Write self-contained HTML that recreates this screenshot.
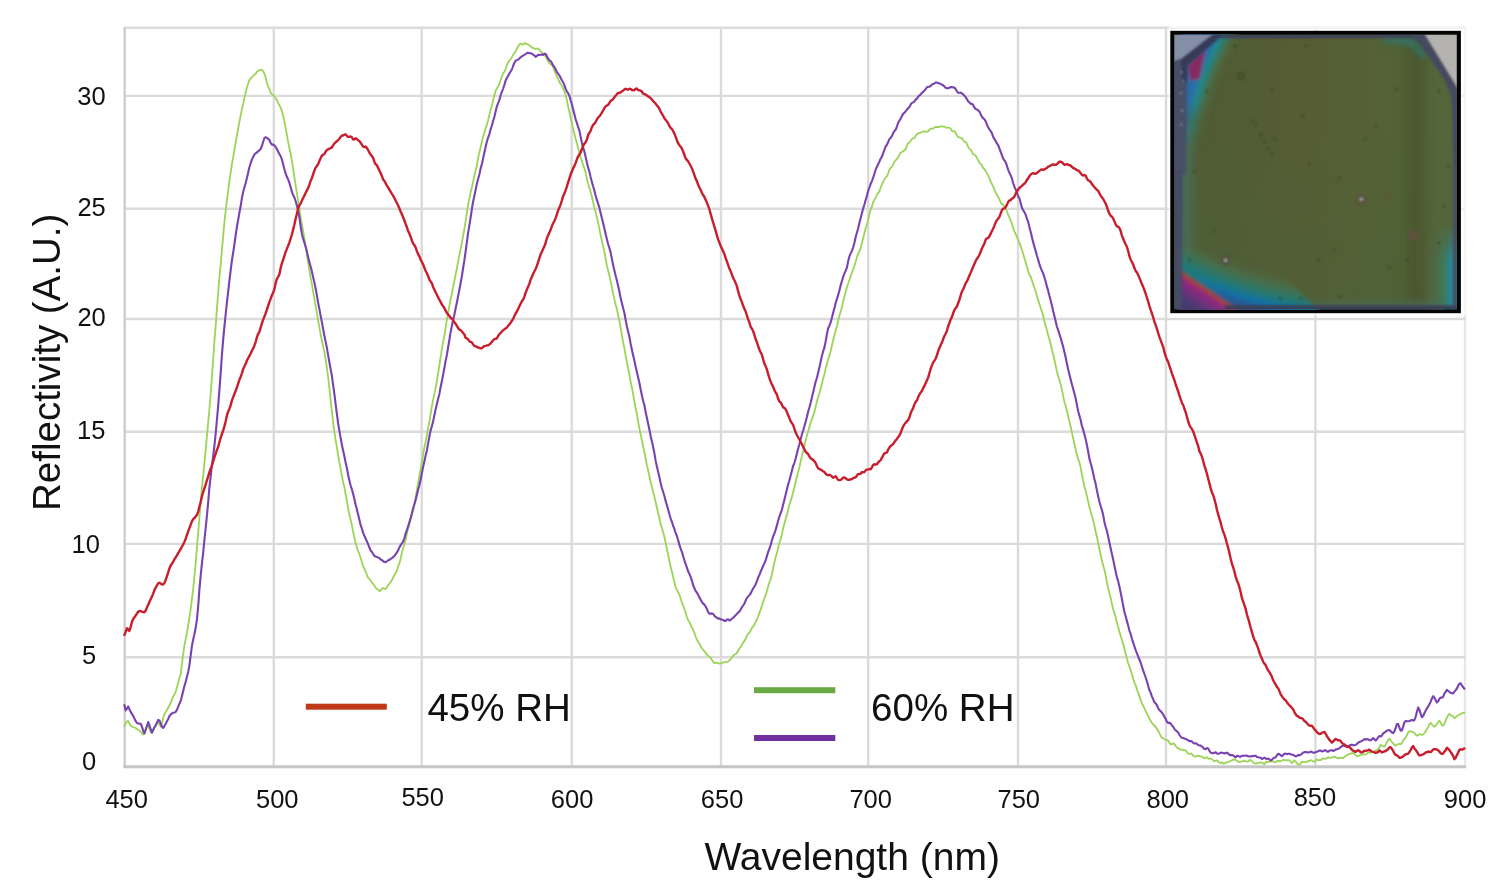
<!DOCTYPE html>
<html><head><meta charset="utf-8"><title>Reflectivity vs wavelength</title>
<style>
html,body{margin:0;padding:0;background:#fff}
body{width:1502px;height:890px;position:relative;overflow:hidden;font-family:"Liberation Sans",Arial,sans-serif;color:#111}
</style></head><body>
<svg width="1502" height="890" viewBox="0 0 1502 890" style="position:absolute;left:0;top:0;filter:blur(0.45px)" font-family="'Liberation Sans', Arial, Helvetica, sans-serif" fill="#111">
<g stroke="#dbdbdb" stroke-width="2.4" fill="none"><line x1="273.8" y1="27.8" x2="273.8" y2="766.7"/><line x1="421.7" y1="27.8" x2="421.7" y2="766.7"/><line x1="571.7" y1="27.8" x2="571.7" y2="766.7"/><line x1="721.0" y1="27.8" x2="721.0" y2="766.7"/><line x1="868.2" y1="27.8" x2="868.2" y2="766.7"/><line x1="1018.0" y1="27.8" x2="1018.0" y2="766.7"/><line x1="1166.0" y1="27.8" x2="1166.0" y2="766.7"/><line x1="1315.4" y1="27.8" x2="1315.4" y2="766.7"/><line x1="1465.0" y1="27.8" x2="1465.0" y2="766.7" stroke="#e8e8e8"/><line x1="124.7" y1="657.3" x2="1465.0" y2="657.3"/><line x1="124.7" y1="543.9" x2="1465.0" y2="543.9"/><line x1="124.7" y1="431.8" x2="1465.0" y2="431.8"/><line x1="124.7" y1="319.0" x2="1465.0" y2="319.0"/><line x1="124.7" y1="208.8" x2="1465.0" y2="208.8"/><line x1="124.7" y1="95.9" x2="1465.0" y2="95.9"/><line x1="123.5" y1="27.8" x2="1466.2" y2="27.8"/></g>
<g stroke="#cdcdcd" stroke-width="2.4" fill="none"><line x1="124.7" y1="27.8" x2="124.7" y2="768.1"/><line x1="123.4" y1="766.7" x2="1466.2" y2="766.7" stroke-width="2.9" stroke="#c6c6c6"/></g>
<rect x="1168.3" y="25.5" width="299.5" height="290.2" fill="#fff" opacity="0.62"/>
<defs><clipPath id="ic"><rect x="1174.3" y="34.8" width="282.4" height="274.3"/></clipPath>
<filter id="b3" x="-20%" y="-20%" width="140%" height="140%"><feGaussianBlur stdDeviation="2.6"/></filter>
<filter id="b2" x="-20%" y="-20%" width="140%" height="140%"><feGaussianBlur stdDeviation="1.6"/></filter>
<filter id="b1" x="-20%" y="-20%" width="140%" height="140%"><feGaussianBlur stdDeviation="0.8"/></filter>
<filter id="b6" x="-30%" y="-30%" width="160%" height="160%"><feGaussianBlur stdDeviation="7"/></filter>
<linearGradient id="og" x1="0" y1="0" x2="1" y2="0">
<stop offset="0" stop-color="#505b35"/><stop offset="0.2" stop-color="#515c35"/><stop offset="0.42" stop-color="#565c34"/><stop offset="0.62" stop-color="#565f35"/><stop offset="0.8" stop-color="#536236"/><stop offset="1" stop-color="#576739"/>
</linearGradient>
<linearGradient id="ogv" x1="0" y1="0" x2="0" y2="1"><stop offset="0.35" stop-color="#4c6238" stop-opacity="0"/><stop offset="1" stop-color="#4c6238" stop-opacity="0.55"/></linearGradient>
<radialGradient id="gBL" gradientUnits="userSpaceOnUse" cx="1371" cy="-104" r="450" fx="1371" fy="-104"><stop offset="0.8578" stop-color="#51603a" stop-opacity="0"/><stop offset="0.8867" stop-color="#48704f" stop-opacity="0.75"/><stop offset="0.9089" stop-color="#2c7868" stop-opacity="0.95"/><stop offset="0.9244" stop-color="#1a7888" stop-opacity="1"/><stop offset="0.9367" stop-color="#166fa6" stop-opacity="1"/><stop offset="0.9467" stop-color="#1f5f98" stop-opacity="1"/><stop offset="0.9600" stop-color="#35508a" stop-opacity="1"/><stop offset="1.0000" stop-color="#3a4a80" stop-opacity="1"/></radialGradient>
<linearGradient id="gM" gradientUnits="userSpaceOnUse" x1="1183.7" y1="269.0" x2="1167.6" y2="293.2"><stop offset="0.000" stop-color="#4a5560" stop-opacity="0"/><stop offset="0.103" stop-color="#6a5048" stop-opacity="0.9"/><stop offset="0.190" stop-color="#a8453c" stop-opacity="1"/><stop offset="0.310" stop-color="#96287a" stop-opacity="1"/><stop offset="0.586" stop-color="#70307c" stop-opacity="1"/><stop offset="0.862" stop-color="#4a3a72" stop-opacity="1"/><stop offset="1.000" stop-color="#44396c" stop-opacity="1"/></linearGradient>
<linearGradient id="gTeal" gradientUnits="userSpaceOnUse" x1="1182.0" y1="0.0" x2="1222.0" y2="0.0"><stop offset="0.000" stop-color="#1f7a70" stop-opacity="0.75"/><stop offset="1.000" stop-color="#1f7a70" stop-opacity="0"/></linearGradient>
<linearGradient id="fTL" gradientUnits="userSpaceOnUse" x1="0" y1="100" x2="0" y2="150"><stop offset="0" stop-color="#fff"/><stop offset="1" stop-color="#000"/></linearGradient><mask id="mTL" maskUnits="userSpaceOnUse" x="1170" y="30" width="100" height="140"><rect x="1170" y="30" width="100" height="140" fill="url(#fTL)"/></mask>
<radialGradient id="gTL" gradientUnits="userSpaceOnUse" cx="1447" cy="164" r="272" fx="1447" fy="164"><stop offset="0.8824" stop-color="#51603a" stop-opacity="0"/><stop offset="0.9191" stop-color="#4a7048" stop-opacity="0.8"/><stop offset="0.9412" stop-color="#2a8078" stop-opacity="1"/><stop offset="0.9540" stop-color="#23858c" stop-opacity="1"/><stop offset="0.9706" stop-color="#2a6fa8" stop-opacity="1"/><stop offset="1.0000" stop-color="#2a68a0" stop-opacity="1"/></radialGradient>
<linearGradient id="gL" gradientUnits="userSpaceOnUse" x1="1200.0" y1="0.0" x2="1181.0" y2="0.0"><stop offset="0.000" stop-color="#4a6a50" stop-opacity="0"/><stop offset="0.600" stop-color="#47705a" stop-opacity="0.7"/><stop offset="1.000" stop-color="#466c62" stop-opacity="0.9"/></linearGradient>
<linearGradient id="gBR" gradientUnits="userSpaceOnUse" x1="1424.0" y1="0.0" x2="1457.0" y2="0.0"><stop offset="0.000" stop-color="#4a6a50" stop-opacity="0"/><stop offset="0.500" stop-color="#3f7a5c" stop-opacity="0.6"/><stop offset="0.760" stop-color="#2a8580" stop-opacity="0.95"/><stop offset="0.880" stop-color="#1590bc" stop-opacity="1"/><stop offset="1.000" stop-color="#1a8ec4" stop-opacity="1"/></linearGradient>
<linearGradient id="fBR" gradientUnits="userSpaceOnUse" x1="0" y1="225" x2="0" y2="262"><stop offset="0" stop-color="#000"/><stop offset="1" stop-color="#fff"/></linearGradient><mask id="mBR" maskUnits="userSpaceOnUse" x="1410" y="220" width="60" height="100"><rect x="1410" y="220" width="60" height="100" fill="url(#fBR)"/></mask>
<linearGradient id="gB" gradientUnits="userSpaceOnUse" x1="0.0" y1="296.0" x2="0.0" y2="309.0"><stop offset="0.000" stop-color="#4a6a52" stop-opacity="0"/><stop offset="0.700" stop-color="#4a6a5a" stop-opacity="0.6"/><stop offset="1.000" stop-color="#44606a" stop-opacity="0.9"/></linearGradient></defs>
<rect x="1170.3" y="30.8" width="290.6" height="282.4" fill="#040404"/>
<g clip-path="url(#ic)">
<rect x="1174" y="34" width="284" height="276" fill="url(#og)"/>
<rect x="1174" y="34" width="284" height="276" fill="url(#ogv)"/>
<g filter="url(#b6)">
<rect x="1407" y="30" width="18" height="290" fill="#48542f" opacity="0.9"/>
<rect x="1426" y="30" width="32" height="290" fill="#57653a" opacity="0.6"/>
</g>
<g filter="url(#b2)">
<rect x="1270" y="294" width="175" height="16" fill="url(#gB)"/>
<polygon points="1181,125 1202,125 1200,268 1181,268" fill="url(#gL)"/>
<polygon points="1181,34 1250,34 1215,100 1205,160 1181,160" fill="url(#gTL)" mask="url(#mTL)"/>
<polygon points="1205.5,48.6 1199.6,79.0 1190.3,80.6 1187.8,65.5" fill="#862a60"/>
<polygon points="1178,215 1200,225 1270,262 1320,312 1178,312" fill="url(#gBL)"/>
<polygon points="1180,262 1222,280 1222,300 1180,285" fill="url(#gTeal)"/>
<polygon points="1176,266 1240,310 1176,312" fill="url(#gM)"/>
</g>
<g filter="url(#b3)">
<polygon points="1418,225 1458,225 1458,309 1418,309" fill="url(#gBR)" mask="url(#mBR)"/>
<polygon points="1382.5,36.8 1412.9,36.8 1428.0,57.0 1421.3,58.7 1409.5,46.1 1382.5,42.7" fill="#2a7a7c" opacity="0.6"/>
</g>
<g filter="url(#b1)">
<polygon points="1173.4,58.7 1181.9,58.7 1186.9,68.8 1186.1,175.1 1173.4,175.1" fill="#465069"/>
<polygon points="1174,170 1182.5,170 1182,309 1174,309" fill="#444e66"/>
<polygon points="1173.4,61.3 1213.1,33.8 1224.0,33.8 1187.8,65.5 1186.9,82.3 1181.9,82.3 1181.0,60.4" fill="#373b58"/>
<polygon points="1173.4,33.8 1213.1,33.8 1181.0,58.7 1173.4,61.3" fill="#858fa8"/>
<polygon points="1222.3,33.8 1325.0,33.8 1325.0,38.2 1219.0,38.2" fill="#3c4258"/>
<rect x="1320" y="34" width="110" height="4" fill="#3c4258"/>
<polygon points="1408.7,33.8 1426.4,33.8 1458.4,88.2 1458.4,175.1 1453.8,175.1 1451.7,97.5 1444.9,80.6 1428.9,56.2 1418.8,42.7" fill="#444a62"/>
<polygon points="1424.7,33.8 1458.4,33.8 1458.4,89.1" fill="#b5b3af"/>
<rect x="1452.8" y="170" width="6" height="140" fill="#46505e"/>
<rect x="1225" y="305.3" width="235" height="5" fill="#3a3f58"/>
</g>
<g filter="url(#b1)" fill="none">
<circle cx="1240.8" cy="75.7" r="3.0" stroke="#3e4826" stroke-width="1.6"/>
<circle cx="1361.3" cy="199.3" r="3.4" stroke="#6d4a52" stroke-width="1.6"/>
<circle cx="1388.8" cy="195.8" r="3.0" stroke="#5e5a30" stroke-width="1.6"/>
<circle cx="1412.4" cy="235.2" r="3.6" stroke="#7a4656" stroke-width="1.6"/>
<circle cx="1225.5" cy="260.3" r="3.6" stroke="#5b454f" stroke-width="1.6"/>
<circle cx="1429.8" cy="251.5" r="4.5" stroke="#5a6440" stroke-width="1.6"/>
<circle cx="1361.3" cy="199.3" r="1.2" fill="#c8c8d0"/>
<circle cx="1225.5" cy="260.3" r="1.2" fill="#c8c8d0"/>
<circle cx="1272.1" cy="89.6" r="1.3" fill="#3a4828"/>
<circle cx="1302.8" cy="115.8" r="1.3" fill="#3a4828"/>
<circle cx="1255.8" cy="124.5" r="1.3" fill="#3a4828"/>
<circle cx="1264.5" cy="141.9" r="1.3" fill="#3a4828"/>
<circle cx="1271.4" cy="154.1" r="1.3" fill="#3a4828"/>
<circle cx="1274.9" cy="138.4" r="1.3" fill="#3a4828"/>
<circle cx="1309.7" cy="164.5" r="1.3" fill="#3a4828"/>
<circle cx="1339.3" cy="178.4" r="1.3" fill="#3a4828"/>
<circle cx="1375.9" cy="126.2" r="1.3" fill="#3a4828"/>
<circle cx="1396.8" cy="89.6" r="1.3" fill="#3a4828"/>
<circle cx="1365.4" cy="138.4" r="1.3" fill="#3a4828"/>
<circle cx="1214.0" cy="230.7" r="1.3" fill="#3a4828"/>
<circle cx="1194.8" cy="171.5" r="1.3" fill="#3a4828"/>
<circle cx="1318.4" cy="260.3" r="1.3" fill="#3a4828"/>
<circle cx="1389.8" cy="267.2" r="1.3" fill="#3a4828"/>
<circle cx="1334.1" cy="249.8" r="1.3" fill="#3a4828"/>
<circle cx="1407.2" cy="260.3" r="1.3" fill="#3a4828"/>
<circle cx="1438.6" cy="242.8" r="1.3" fill="#3a4828"/>
<circle cx="1449.0" cy="166.2" r="1.3" fill="#3a4828"/>
<circle cx="1443.8" cy="206.3" r="1.3" fill="#3a4828"/>
<circle cx="1207.0" cy="91.4" r="1.3" fill="#3a4828"/>
<circle cx="1189.6" cy="260.3" r="1.3" fill="#3a4828"/>
<circle cx="1280.1" cy="298.6" r="1.3" fill="#3a4828"/>
<circle cx="1301.0" cy="298.6" r="1.3" fill="#3a4828"/>
<circle cx="1339.3" cy="296.8" r="1.3" fill="#3a4828"/>
<circle cx="1438.6" cy="91.4" r="1.3" fill="#3a4828"/>
<circle cx="1306.2" cy="46.1" r="1.3" fill="#3a4828"/>
<circle cx="1234.9" cy="46.1" r="1.3" fill="#3a4828"/>
<circle cx="1261.0" cy="134.9" r="1.3" fill="#3a4828"/>
<circle cx="1267.9" cy="148.8" r="1.3" fill="#3a4828"/>
<circle cx="1252.3" cy="121.0" r="1.3" fill="#3a4828"/>
<circle cx="1181.6" cy="72.2" r="0.9" fill="#b0b6cc"/>
<circle cx="1183.0" cy="80.9" r="0.9" fill="#b0b6cc"/>
<circle cx="1180.9" cy="93.1" r="0.9" fill="#b0b6cc"/>
<circle cx="1182.3" cy="110.5" r="0.9" fill="#b0b6cc"/>
<circle cx="1181.2" cy="124.5" r="0.9" fill="#b0b6cc"/>
</g>
</g>
<g fill="none" stroke-linejoin="round" stroke-linecap="round">
<path d="M124.4 726.1 L125.7 723.8 L126.9 721.4 L128.2 721.0 L129.4 723.7 L130.7 725.8 L131.9 726.6 L133.2 727.1 L134.4 727.5 L135.7 727.9 L136.9 729.0 L138.2 729.8 L139.4 730.6 L140.7 731.7 L141.9 733.2 L143.2 734.5 L144.4 733.5 L145.7 729.7 L146.9 726.1 L148.2 725.8 L149.4 728.9 L150.7 731.8 L151.9 732.9 L153.2 730.4 L154.4 727.8 L155.7 725.9 L156.9 723.6 L158.2 722.7 L159.4 724.4 L160.7 726.8 L161.9 723.7 L163.2 717.8 L164.4 714.4 L165.7 712.3 L166.9 710.0 L168.2 707.8 L169.4 705.5 L170.7 702.7 L171.9 699.5 L173.2 696.8 L174.4 694.4 L175.7 691.8 L176.9 687.4 L178.2 682.5 L179.4 678.2 L180.7 673.9 L181.9 664.2 L183.2 654.0 L184.4 645.4 L185.7 639.1 L186.9 633.2 L188.2 625.5 L189.4 617.6 L190.7 609.0 L191.9 598.8 L193.2 588.5 L194.4 577.2 L195.7 563.0 L196.9 547.8 L198.2 532.6 L199.4 517.6 L200.7 502.2 L201.9 487.9 L203.2 475.2 L204.4 463.1 L205.7 449.9 L206.9 436.1 L208.2 422.4 L209.4 409.0 L210.7 393.5 L211.9 376.9 L213.2 359.0 L214.4 341.4 L215.7 325.2 L216.9 308.6 L218.2 292.2 L219.4 277.8 L220.7 264.5 L221.9 250.1 L223.2 235.9 L224.4 222.4 L225.7 210.6 L226.9 200.6 L228.2 190.5 L229.4 180.9 L230.7 172.3 L231.9 164.1 L233.2 157.1 L234.4 150.0 L235.7 142.3 L236.9 135.7 L238.2 128.5 L239.4 121.7 L240.7 115.2 L241.9 109.4 L243.2 103.8 L244.4 97.9 L245.7 92.4 L246.9 87.7 L248.2 83.5 L249.4 80.2 L250.7 78.4 L251.9 77.1 L253.2 75.8 L254.4 74.7 L255.7 73.9 L256.9 71.8 L258.1 70.6 L259.4 70.6 L260.6 69.7 L261.9 70.0 L263.1 71.0 L264.4 73.6 L265.6 77.5 L266.9 82.8 L268.1 86.3 L269.4 89.0 L270.6 92.5 L271.9 94.3 L273.1 95.2 L274.4 96.3 L275.6 98.1 L276.9 100.3 L278.1 102.9 L279.4 105.3 L280.6 107.5 L281.9 111.3 L283.1 116.0 L284.4 121.4 L285.6 127.8 L286.9 134.8 L288.1 141.9 L289.4 148.2 L290.6 153.8 L291.9 160.6 L293.1 168.4 L294.4 177.2 L295.6 185.1 L296.9 193.2 L298.1 200.9 L299.4 208.9 L300.6 216.8 L301.9 224.0 L303.1 231.0 L304.4 237.9 L305.6 246.1 L306.9 254.3 L308.1 262.9 L309.4 270.4 L310.6 277.6 L311.9 284.2 L313.1 291.6 L314.4 298.6 L315.6 305.8 L316.9 313.1 L318.1 320.1 L319.4 327.3 L320.6 334.3 L321.9 340.5 L323.1 346.2 L324.4 352.1 L325.6 359.6 L326.9 367.9 L328.1 377.0 L329.4 388.5 L330.6 399.8 L331.9 411.1 L333.1 422.4 L334.4 432.1 L335.6 440.0 L336.9 447.4 L338.1 455.2 L339.4 462.3 L340.6 468.8 L341.9 476.1 L343.1 482.0 L344.4 487.2 L345.6 494.0 L346.9 500.8 L348.1 508.4 L349.4 514.6 L350.6 519.5 L351.9 525.3 L353.1 531.6 L354.4 537.4 L355.6 543.2 L356.9 547.4 L358.1 551.0 L359.4 554.5 L360.6 557.6 L361.9 562.2 L363.1 566.3 L364.4 568.7 L365.6 571.3 L366.9 574.8 L368.1 577.9 L369.4 578.9 L370.6 580.3 L371.9 582.6 L373.1 583.6 L374.4 585.7 L375.6 587.5 L376.9 589.0 L378.1 589.8 L379.4 591.1 L380.6 590.6 L381.9 588.8 L383.1 588.0 L384.4 588.8 L385.6 589.0 L386.9 587.3 L388.1 585.3 L389.4 583.6 L390.6 582.2 L391.9 580.1 L393.1 577.5 L394.4 574.9 L395.6 573.4 L396.9 570.4 L398.1 566.2 L399.4 563.5 L400.6 558.8 L401.9 552.8 L403.1 547.6 L404.4 544.3 L405.6 539.8 L406.9 533.9 L408.1 528.5 L409.4 524.4 L410.6 518.8 L411.9 514.0 L413.1 510.3 L414.4 504.6 L415.6 497.2 L416.9 489.9 L418.1 482.9 L419.4 475.3 L420.6 468.9 L421.9 461.9 L423.1 454.3 L424.4 447.5 L425.6 441.7 L426.9 435.2 L428.1 428.5 L429.4 421.8 L430.6 414.0 L431.9 406.4 L433.1 399.7 L434.4 394.1 L435.6 388.1 L436.9 381.0 L438.1 373.4 L439.4 365.0 L440.6 357.1 L441.9 349.1 L443.1 341.9 L444.4 335.8 L445.6 328.1 L446.9 319.6 L448.1 312.4 L449.4 306.0 L450.6 299.4 L451.9 293.6 L453.1 287.1 L454.4 280.8 L455.6 274.6 L456.9 268.2 L458.1 261.4 L459.4 254.9 L460.6 248.8 L461.9 242.6 L463.1 235.9 L464.4 228.8 L465.6 221.5 L466.9 213.0 L468.1 205.0 L469.4 198.3 L470.6 192.4 L471.9 187.6 L473.1 181.7 L474.4 175.5 L475.6 170.8 L476.9 165.0 L478.1 157.7 L479.4 152.6 L480.6 147.5 L481.9 141.6 L483.1 136.7 L484.4 132.4 L485.6 128.5 L486.9 124.6 L488.1 120.5 L489.4 114.9 L490.6 110.1 L491.9 105.4 L493.1 100.5 L494.4 95.3 L495.6 91.0 L496.9 88.4 L498.1 86.5 L499.4 83.9 L500.6 80.3 L501.9 76.5 L503.1 73.3 L504.4 71.7 L505.6 69.1 L506.9 65.4 L508.1 62.5 L509.4 60.4 L510.6 59.4 L511.9 57.2 L513.1 54.9 L514.4 53.2 L515.6 51.4 L516.9 48.8 L518.1 46.3 L519.4 44.4 L520.6 43.6 L521.9 44.5 L523.1 44.7 L524.4 43.0 L525.6 43.4 L526.9 44.2 L528.1 44.4 L529.4 45.3 L530.6 46.2 L531.9 47.6 L533.1 47.9 L534.4 48.5 L535.6 49.2 L536.9 48.7 L538.1 48.4 L539.4 49.8 L540.6 51.6 L541.9 52.5 L543.1 53.4 L544.4 54.4 L545.6 56.6 L546.9 59.0 L548.1 61.1 L549.4 63.4 L550.6 64.2 L551.9 64.9 L553.1 67.1 L554.4 70.7 L555.6 73.4 L556.9 76.1 L558.1 78.8 L559.4 81.8 L560.6 84.0 L561.9 85.5 L563.1 88.4 L564.4 91.6 L565.6 94.8 L566.9 100.3 L568.1 106.3 L569.4 112.0 L570.6 117.7 L571.9 123.5 L573.1 128.7 L574.4 133.9 L575.6 138.7 L576.9 143.3 L578.1 147.7 L579.4 152.7 L580.6 157.3 L581.9 160.9 L583.1 165.2 L584.4 168.3 L585.6 172.5 L586.9 178.4 L588.1 183.7 L589.4 188.0 L590.6 191.7 L591.9 196.8 L593.1 202.3 L594.4 207.6 L595.6 212.4 L596.9 217.6 L598.1 222.8 L599.4 228.8 L600.6 235.1 L601.9 241.1 L603.1 246.1 L604.4 251.9 L605.6 258.9 L606.9 265.4 L608.1 270.5 L609.4 275.5 L610.6 281.1 L611.9 287.4 L613.1 293.6 L614.4 299.6 L615.6 304.5 L616.9 309.2 L618.1 315.0 L619.4 320.9 L620.6 327.7 L621.9 335.6 L623.1 342.1 L624.4 348.1 L625.6 355.7 L626.9 361.9 L628.1 367.9 L629.4 375.0 L630.6 381.7 L631.9 387.5 L633.1 393.9 L634.4 401.6 L635.6 408.2 L636.9 413.8 L638.1 421.6 L639.4 428.6 L640.6 434.4 L641.9 440.5 L643.1 446.3 L644.4 452.1 L645.6 458.8 L646.9 465.2 L648.1 470.2 L649.4 476.2 L650.6 482.0 L651.9 486.9 L653.1 491.9 L654.4 496.6 L655.6 502.0 L656.9 507.8 L658.1 512.8 L659.4 518.0 L660.6 524.1 L661.9 527.8 L663.1 532.0 L664.4 537.0 L665.6 542.5 L666.9 548.7 L668.1 554.4 L669.4 561.0 L670.6 566.7 L671.9 571.4 L673.1 577.0 L674.4 582.2 L675.6 587.3 L676.9 589.9 L678.1 592.0 L679.4 594.8 L680.6 598.5 L681.9 602.5 L683.1 605.7 L684.4 608.9 L685.6 612.6 L686.9 616.7 L688.1 620.2 L689.4 622.0 L690.6 624.7 L691.9 627.5 L693.1 629.9 L694.4 632.8 L695.6 636.2 L696.9 639.6 L698.1 641.7 L699.4 643.7 L700.6 646.3 L701.9 648.2 L703.1 649.7 L704.4 651.3 L705.6 652.7 L706.9 654.7 L708.1 656.1 L709.4 656.5 L710.6 657.7 L711.9 660.0 L713.1 661.7 L714.4 663.1 L715.6 662.7 L716.9 662.9 L718.1 663.1 L719.4 663.6 L720.6 663.7 L721.9 662.8 L723.1 662.5 L724.4 662.3 L725.6 662.0 L726.9 661.8 L728.1 661.5 L729.4 660.6 L730.6 659.2 L731.9 657.4 L733.1 655.8 L734.4 654.7 L735.6 654.0 L736.9 653.0 L738.1 650.7 L739.4 648.5 L740.6 647.2 L741.9 644.9 L743.1 642.7 L744.4 641.2 L745.6 639.0 L746.9 635.6 L748.1 633.9 L749.4 632.8 L750.6 630.6 L751.9 628.1 L753.1 626.4 L754.4 624.9 L755.6 622.0 L756.9 619.5 L758.1 616.6 L759.4 612.9 L760.6 609.6 L761.9 605.8 L763.1 601.9 L764.4 598.4 L765.6 595.5 L766.9 591.2 L768.1 586.5 L769.4 582.5 L770.6 579.4 L771.9 574.5 L773.1 568.5 L774.4 562.5 L775.6 557.2 L776.9 553.1 L778.1 548.2 L779.4 542.9 L780.6 539.2 L781.9 534.4 L783.1 528.5 L784.4 523.6 L785.6 519.2 L786.9 514.8 L788.1 509.7 L789.4 504.8 L790.6 501.4 L791.9 497.1 L793.1 492.6 L794.4 487.5 L795.6 481.8 L796.9 476.9 L798.1 472.3 L799.4 467.2 L800.6 461.4 L801.9 456.0 L803.1 451.1 L804.4 445.9 L805.6 440.6 L806.9 435.5 L808.1 431.6 L809.4 427.0 L810.6 422.8 L811.9 419.1 L813.1 415.7 L814.4 412.1 L815.6 406.7 L816.9 401.2 L818.1 397.2 L819.4 393.0 L820.6 388.7 L821.9 383.7 L823.1 378.8 L824.4 374.2 L825.6 369.1 L826.9 363.9 L828.1 359.7 L829.4 355.9 L830.6 351.5 L831.9 345.7 L833.1 340.3 L834.4 335.6 L835.6 330.9 L836.9 326.2 L838.1 320.8 L839.4 315.7 L840.6 311.8 L841.9 307.2 L843.1 301.7 L844.4 296.6 L845.6 291.6 L846.9 287.6 L848.1 283.8 L849.4 280.0 L850.6 276.2 L851.9 272.6 L853.1 269.2 L854.4 265.8 L855.6 261.9 L856.9 257.4 L858.1 253.7 L859.4 251.5 L860.6 248.0 L861.9 243.1 L863.1 238.6 L864.4 233.1 L865.6 228.4 L866.9 224.7 L868.1 220.4 L869.4 214.3 L870.6 209.8 L871.9 206.5 L873.1 202.2 L874.4 199.9 L875.6 197.6 L876.9 194.8 L878.1 193.1 L879.4 191.4 L880.6 187.5 L881.9 184.5 L883.1 182.2 L884.4 179.4 L885.6 177.4 L886.9 176.4 L888.1 173.4 L889.4 169.8 L890.6 168.0 L891.9 166.9 L893.1 164.6 L894.4 161.8 L895.6 160.3 L896.9 159.0 L898.1 157.3 L899.4 154.8 L900.6 152.6 L901.9 152.2 L903.1 151.1 L904.4 150.4 L905.6 149.1 L906.9 145.6 L908.1 143.1 L909.4 142.5 L910.6 141.0 L911.9 139.1 L913.1 138.2 L914.4 138.1 L915.6 136.1 L916.9 134.2 L918.1 133.4 L919.4 132.9 L920.6 132.7 L921.9 132.0 L923.1 131.4 L924.4 131.6 L925.6 131.3 L926.9 131.6 L928.1 131.3 L929.4 129.8 L930.6 128.7 L931.9 128.7 L933.1 128.5 L934.4 127.6 L935.6 127.0 L936.9 126.9 L938.1 127.1 L939.4 127.0 L940.6 126.3 L941.9 126.3 L943.1 126.6 L944.4 126.7 L945.6 127.3 L946.9 127.9 L948.1 127.7 L949.4 127.6 L950.6 128.7 L951.9 130.9 L953.1 131.4 L954.4 131.0 L955.6 132.6 L956.9 135.5 L958.1 136.9 L959.4 137.3 L960.6 138.0 L961.9 138.3 L963.1 140.0 L964.4 141.6 L965.6 141.9 L966.9 143.8 L968.1 146.8 L969.4 148.7 L970.6 149.6 L971.9 151.8 L973.1 154.1 L974.4 154.6 L975.6 155.6 L976.9 157.8 L978.1 160.2 L979.4 162.6 L980.6 163.8 L981.9 165.3 L983.1 168.0 L984.4 169.0 L985.6 170.8 L986.9 173.3 L988.1 175.7 L989.4 178.3 L990.6 181.4 L991.9 184.0 L993.1 186.4 L994.4 189.6 L995.6 192.5 L996.9 194.8 L998.1 196.9 L999.4 199.2 L1000.6 202.3 L1001.9 204.1 L1003.1 204.5 L1004.4 206.9 L1005.6 208.9 L1006.9 210.9 L1008.1 214.7 L1009.4 217.7 L1010.6 220.4 L1011.9 223.7 L1013.1 227.9 L1014.4 231.3 L1015.6 233.9 L1016.9 236.9 L1018.1 239.8 L1019.4 242.9 L1020.6 246.1 L1021.9 249.8 L1023.1 253.6 L1024.4 258.1 L1025.7 262.5 L1026.9 266.5 L1028.2 271.2 L1029.4 274.9 L1030.7 276.6 L1031.9 280.3 L1033.2 284.2 L1034.4 287.8 L1035.7 291.5 L1036.9 296.0 L1038.2 300.1 L1039.4 303.9 L1040.7 308.0 L1041.9 311.6 L1043.2 315.6 L1044.4 321.5 L1045.7 325.9 L1046.9 330.2 L1048.2 335.3 L1049.4 339.5 L1050.7 344.0 L1051.9 349.8 L1053.2 354.3 L1054.4 359.7 L1055.7 365.6 L1056.9 371.4 L1058.2 376.3 L1059.4 380.1 L1060.7 384.2 L1061.9 389.6 L1063.2 396.1 L1064.4 401.8 L1065.7 406.2 L1066.9 410.8 L1068.2 416.6 L1069.4 421.6 L1070.7 426.7 L1071.9 432.4 L1073.2 438.3 L1074.4 443.9 L1075.7 449.7 L1076.9 455.1 L1078.2 459.1 L1079.4 462.3 L1080.7 467.7 L1081.9 474.4 L1083.2 480.7 L1084.4 486.8 L1085.7 491.1 L1086.9 495.9 L1088.2 501.8 L1089.4 506.9 L1090.7 511.4 L1091.9 516.0 L1093.2 520.4 L1094.4 525.8 L1095.7 531.8 L1096.9 536.7 L1098.2 543.0 L1099.4 549.0 L1100.7 554.8 L1101.9 560.6 L1103.2 565.4 L1104.4 569.6 L1105.7 575.5 L1106.9 582.2 L1108.2 588.3 L1109.4 592.9 L1110.7 598.0 L1111.9 603.9 L1113.2 609.3 L1114.4 612.9 L1115.7 617.4 L1116.9 622.6 L1118.2 626.7 L1119.4 631.8 L1120.7 636.0 L1121.9 639.7 L1123.2 644.2 L1124.4 648.7 L1125.7 653.7 L1126.9 658.7 L1128.2 663.3 L1129.4 666.8 L1130.7 670.4 L1131.9 674.2 L1133.2 678.7 L1134.4 682.6 L1135.7 685.3 L1136.9 689.4 L1138.2 692.9 L1139.4 696.4 L1140.7 700.1 L1141.9 703.4 L1143.2 705.8 L1144.4 708.2 L1145.7 711.1 L1146.9 713.5 L1148.2 715.9 L1149.4 718.6 L1150.7 721.1 L1151.9 722.9 L1153.2 724.3 L1154.4 725.5 L1155.7 727.1 L1156.9 728.7 L1158.2 731.1 L1159.4 733.0 L1160.7 736.0 L1161.9 738.1 L1163.2 738.1 L1164.4 739.2 L1165.7 739.8 L1166.9 739.9 L1168.2 740.8 L1169.4 742.8 L1170.7 744.3 L1171.9 744.1 L1173.2 743.4 L1174.4 744.1 L1175.7 746.0 L1176.9 747.7 L1178.2 748.2 L1179.4 748.9 L1180.7 749.7 L1181.9 749.7 L1183.2 750.0 L1184.4 750.2 L1185.7 750.4 L1186.9 752.2 L1188.2 753.6 L1189.4 754.0 L1190.7 753.4 L1191.9 754.1 L1193.2 755.6 L1194.4 756.4 L1195.7 756.6 L1196.9 755.9 L1198.2 755.9 L1199.4 756.0 L1200.7 756.4 L1201.9 756.7 L1203.2 757.5 L1204.4 758.3 L1205.7 757.7 L1206.9 757.1 L1208.2 758.4 L1209.4 758.9 L1210.7 758.5 L1211.9 759.0 L1213.2 760.4 L1214.4 761.2 L1215.7 760.7 L1216.9 760.4 L1218.2 761.5 L1219.4 762.6 L1220.7 763.1 L1221.9 762.3 L1223.2 763.5 L1224.4 763.5 L1225.7 762.6 L1226.9 762.5 L1228.2 761.9 L1229.4 761.5 L1230.7 760.7 L1231.9 760.3 L1233.2 759.6 L1234.4 759.3 L1235.7 760.0 L1236.9 760.6 L1238.2 761.7 L1239.4 762.2 L1240.7 761.6 L1241.9 761.4 L1243.2 761.1 L1244.4 760.5 L1245.7 761.3 L1246.9 761.7 L1248.2 761.3 L1249.4 760.3 L1250.7 760.0 L1251.9 761.1 L1253.2 762.4 L1254.4 763.3 L1255.7 763.5 L1256.9 763.4 L1258.2 762.9 L1259.4 762.7 L1260.7 762.3 L1261.9 762.6 L1263.2 763.5 L1264.4 764.1 L1265.7 762.5 L1266.9 761.5 L1268.2 762.1 L1269.4 761.6 L1270.7 761.4 L1271.9 761.3 L1273.2 761.4 L1274.4 762.4 L1275.7 762.2 L1276.9 761.2 L1278.2 761.0 L1279.4 761.0 L1280.7 761.2 L1281.9 760.5 L1283.2 759.9 L1284.4 759.8 L1285.7 760.1 L1286.9 760.3 L1288.2 760.0 L1289.4 760.5 L1290.7 761.8 L1291.9 763.0 L1293.2 761.9 L1294.4 760.3 L1295.7 761.5 L1296.9 763.3 L1298.2 764.5 L1299.4 764.8 L1300.7 763.4 L1301.9 761.6 L1303.2 761.8 L1304.4 762.1 L1305.7 762.0 L1306.9 761.8 L1308.2 761.0 L1309.4 760.9 L1310.7 760.1 L1311.9 760.5 L1313.2 761.5 L1314.4 761.9 L1315.7 760.3 L1316.9 759.4 L1318.2 760.1 L1319.4 760.1 L1320.7 760.1 L1321.9 758.9 L1323.2 758.4 L1324.4 758.9 L1325.7 758.6 L1326.9 757.9 L1328.2 757.2 L1329.4 757.9 L1330.7 757.8 L1331.9 757.7 L1333.2 756.9 L1334.4 756.6 L1335.7 757.1 L1336.9 757.9 L1338.2 758.3 L1339.4 757.8 L1340.7 757.6 L1341.9 758.0 L1343.2 758.2 L1344.4 756.8 L1345.7 756.1 L1346.9 755.3 L1348.2 754.5 L1349.4 754.0 L1350.7 753.7 L1351.9 753.1 L1353.2 753.2 L1354.4 754.1 L1355.7 754.9 L1356.9 756.3 L1358.2 756.2 L1359.4 755.3 L1360.7 755.1 L1361.9 754.4 L1363.2 754.1 L1364.4 754.4 L1365.7 754.7 L1366.9 753.6 L1368.2 752.5 L1369.4 752.5 L1370.7 752.9 L1371.9 751.9 L1373.2 751.7 L1374.4 751.3 L1375.7 750.5 L1376.9 750.1 L1378.2 749.5 L1379.4 747.3 L1380.7 745.0 L1381.9 745.3 L1383.2 746.4 L1384.4 746.9 L1385.7 744.6 L1386.9 742.1 L1388.2 740.1 L1389.4 738.4 L1390.7 740.4 L1391.9 742.1 L1393.2 743.4 L1394.4 744.9 L1395.7 745.6 L1396.9 744.7 L1398.2 744.1 L1399.4 744.0 L1400.7 744.1 L1401.9 742.9 L1403.2 740.4 L1404.4 738.9 L1405.7 737.4 L1406.9 735.0 L1408.2 732.4 L1409.4 731.2 L1410.7 731.5 L1411.9 731.8 L1413.2 732.2 L1414.4 732.8 L1415.7 734.8 L1416.9 735.7 L1418.2 735.1 L1419.4 734.4 L1420.7 734.2 L1421.9 735.0 L1423.2 734.5 L1424.4 733.0 L1425.7 731.2 L1426.9 729.0 L1428.2 726.9 L1429.4 724.1 L1430.7 722.8 L1431.9 724.6 L1433.2 725.8 L1434.4 726.8 L1435.7 725.8 L1436.9 724.1 L1438.2 722.0 L1439.4 720.6 L1440.7 722.8 L1441.9 725.1 L1443.2 725.7 L1444.4 723.9 L1445.7 720.6 L1446.9 717.7 L1448.2 715.3 L1449.4 713.8 L1450.7 715.2 L1451.9 715.7 L1453.2 716.6 L1454.4 718.3 L1455.7 717.3 L1456.9 716.0 L1458.2 715.4 L1459.4 714.5 L1460.7 713.9 L1461.9 713.4 L1463.2 712.7 L1464.4 712.9" stroke="#9cd458" stroke-width="1.8"/>
<path d="M124.4 705.0 L125.7 710.5 L126.9 708.7 L128.2 706.4 L129.4 709.2 L130.7 711.9 L131.9 713.9 L133.2 716.0 L134.4 718.4 L135.7 721.2 L136.9 722.8 L138.2 723.5 L139.4 723.6 L140.7 723.8 L141.9 726.5 L143.2 730.9 L144.4 733.4 L145.7 729.7 L146.9 726.0 L148.2 722.1 L149.4 725.1 L150.7 729.2 L151.9 732.7 L153.2 729.8 L154.4 727.3 L155.7 725.2 L156.9 722.8 L158.2 719.9 L159.4 720.4 L160.7 723.7 L161.9 726.6 L163.2 727.9 L164.4 726.0 L165.7 723.8 L166.9 721.4 L168.2 718.9 L169.4 716.2 L170.7 714.4 L171.9 713.5 L173.2 712.7 L174.4 712.5 L175.7 712.1 L176.9 709.8 L178.2 706.6 L179.4 703.7 L180.7 700.9 L181.9 696.2 L183.2 691.1 L184.4 686.1 L185.7 681.8 L186.9 677.1 L188.2 671.9 L189.4 665.4 L190.7 655.3 L191.9 646.1 L193.2 639.4 L194.4 634.3 L195.7 627.7 L196.9 619.7 L198.2 606.2 L199.4 589.6 L200.7 575.5 L201.9 563.6 L203.2 552.6 L204.4 540.1 L205.7 528.0 L206.9 516.0 L208.2 502.2 L209.4 487.6 L210.7 476.1 L211.9 466.0 L213.2 456.0 L214.4 445.8 L215.7 433.4 L216.9 420.2 L218.2 405.6 L219.4 390.2 L220.7 372.9 L221.9 355.2 L223.2 339.3 L224.4 326.6 L225.7 314.0 L226.9 302.3 L228.2 291.5 L229.4 280.6 L230.7 270.1 L231.9 260.5 L233.2 252.3 L234.4 244.3 L235.7 235.0 L236.9 226.8 L238.2 219.6 L239.4 212.8 L240.7 205.8 L241.9 198.1 L243.2 191.7 L244.4 187.3 L245.7 183.1 L246.9 177.9 L248.2 172.4 L249.4 167.3 L250.7 163.2 L251.9 159.6 L253.2 157.0 L254.4 154.5 L255.7 153.3 L256.9 152.4 L258.1 151.4 L259.4 150.3 L260.6 149.0 L261.9 146.0 L263.1 142.0 L264.4 138.0 L265.6 137.2 L266.9 137.9 L268.1 138.9 L269.4 139.8 L270.6 142.9 L271.9 144.6 L273.1 144.5 L274.4 145.3 L275.6 146.9 L276.9 149.0 L278.1 151.5 L279.4 154.1 L280.6 156.0 L281.9 159.5 L283.1 164.1 L284.4 169.2 L285.6 173.4 L286.9 176.8 L288.1 179.4 L289.4 182.8 L290.6 187.0 L291.9 191.7 L293.1 195.0 L294.4 197.5 L295.6 201.0 L296.9 205.6 L298.1 210.6 L299.4 217.4 L300.6 226.1 L301.9 234.0 L303.1 238.7 L304.4 242.7 L305.6 246.8 L306.9 251.4 L308.1 257.1 L309.4 262.1 L310.6 266.5 L311.9 271.5 L313.1 277.1 L314.4 282.6 L315.6 288.3 L316.9 295.4 L318.1 302.6 L319.4 309.1 L320.6 315.6 L321.9 322.1 L323.1 329.0 L324.4 335.8 L325.6 341.6 L326.9 347.9 L328.1 355.1 L329.4 362.3 L330.6 369.2 L331.9 375.8 L333.1 384.9 L334.4 394.2 L335.6 403.9 L336.9 413.9 L338.1 423.0 L339.4 430.8 L340.6 437.9 L341.9 444.8 L343.1 450.4 L344.4 456.3 L345.6 462.4 L346.9 468.2 L348.1 474.8 L349.4 480.4 L350.6 485.5 L351.9 489.3 L353.1 493.7 L354.4 499.2 L355.6 504.5 L356.9 509.2 L358.1 514.5 L359.4 519.8 L360.6 524.9 L361.9 528.7 L363.1 532.8 L364.4 535.8 L365.6 538.5 L366.9 541.4 L368.1 544.1 L369.4 547.5 L370.6 550.3 L371.9 552.0 L373.1 554.0 L374.4 555.8 L375.6 556.5 L376.9 557.1 L378.1 557.4 L379.4 558.1 L380.6 559.5 L381.9 559.9 L383.1 561.2 L384.4 562.0 L385.6 562.2 L386.9 561.3 L388.1 560.3 L389.4 559.9 L390.6 558.9 L391.9 558.1 L393.1 557.2 L394.4 555.9 L395.6 554.3 L396.9 552.4 L398.1 550.2 L399.4 547.4 L400.6 545.4 L401.9 543.3 L403.1 541.7 L404.4 538.3 L405.6 533.4 L406.9 530.1 L408.1 526.4 L409.4 522.1 L410.6 518.4 L411.9 513.4 L413.1 508.2 L414.4 504.2 L415.6 500.1 L416.9 495.1 L418.1 489.8 L419.4 485.3 L420.6 479.8 L421.9 473.0 L423.1 466.9 L424.4 461.2 L425.6 455.6 L426.9 450.4 L428.1 443.6 L429.4 436.4 L430.6 430.6 L431.9 426.1 L433.1 421.6 L434.4 415.3 L435.6 409.4 L436.9 404.1 L438.1 398.9 L439.4 393.9 L440.6 387.2 L441.9 381.0 L443.1 374.7 L444.4 367.9 L445.6 360.9 L446.9 354.9 L448.1 347.4 L449.4 339.7 L450.6 332.2 L451.9 325.7 L453.1 320.2 L454.4 314.5 L455.6 308.5 L456.9 302.6 L458.1 296.1 L459.4 289.6 L460.6 283.2 L461.9 276.0 L463.1 268.0 L464.4 260.2 L465.6 251.7 L466.9 242.1 L468.1 232.9 L469.4 225.1 L470.6 217.5 L471.9 209.0 L473.1 201.7 L474.4 195.8 L475.6 190.0 L476.9 183.5 L478.1 178.9 L479.4 174.2 L480.6 168.6 L481.9 164.0 L483.1 158.4 L484.4 152.5 L485.6 147.1 L486.9 141.5 L488.1 137.6 L489.4 134.1 L490.6 129.3 L491.9 125.5 L493.1 121.0 L494.4 116.7 L495.6 111.6 L496.9 106.3 L498.1 103.1 L499.4 99.9 L500.6 95.5 L501.9 91.7 L503.1 88.8 L504.4 84.7 L505.6 80.6 L506.9 78.1 L508.1 76.0 L509.4 73.3 L510.6 71.5 L511.9 69.5 L513.1 66.0 L514.4 62.7 L515.6 60.7 L516.9 60.1 L518.1 59.6 L519.4 58.5 L520.6 57.3 L521.9 56.2 L523.1 55.6 L524.4 54.8 L525.6 54.0 L526.9 53.1 L528.1 52.8 L529.4 53.2 L530.6 53.2 L531.9 53.7 L533.1 54.7 L534.4 55.6 L535.6 56.8 L536.9 55.9 L538.1 54.7 L539.4 55.0 L540.6 54.8 L541.9 54.6 L543.1 55.0 L544.4 53.9 L545.6 53.7 L546.9 56.2 L548.1 58.4 L549.4 60.4 L550.6 61.2 L551.9 62.8 L553.1 65.6 L554.4 66.9 L555.6 69.3 L556.9 72.1 L558.1 73.6 L559.4 75.3 L560.6 77.8 L561.9 80.3 L563.1 82.2 L564.4 85.2 L565.6 88.6 L566.9 91.7 L568.1 93.2 L569.4 95.8 L570.6 100.1 L571.9 104.3 L573.1 109.1 L574.4 114.2 L575.6 119.1 L576.9 123.0 L578.1 126.9 L579.4 130.7 L580.6 136.6 L581.9 143.0 L583.1 147.2 L584.4 151.5 L585.6 156.7 L586.9 162.6 L588.1 167.4 L589.4 171.7 L590.6 177.0 L591.9 181.9 L593.1 186.3 L594.4 190.6 L595.6 195.8 L596.9 199.9 L598.1 203.6 L599.4 207.8 L600.6 212.9 L601.9 218.2 L603.1 223.1 L604.4 228.6 L605.6 233.9 L606.9 239.3 L608.1 244.0 L609.4 248.0 L610.6 252.4 L611.9 258.9 L613.1 265.1 L614.4 270.4 L615.6 275.6 L616.9 280.5 L618.1 285.7 L619.4 291.5 L620.6 298.1 L621.9 303.3 L623.1 307.9 L624.4 313.0 L625.6 319.7 L626.9 326.4 L628.1 331.6 L629.4 336.8 L630.6 343.6 L631.9 349.8 L633.1 355.2 L634.4 360.7 L635.6 366.5 L636.9 371.9 L638.1 377.3 L639.4 382.7 L640.6 389.3 L641.9 395.3 L643.1 400.8 L644.4 405.2 L645.6 411.7 L646.9 418.1 L648.1 423.4 L649.4 429.5 L650.6 435.8 L651.9 441.4 L653.1 446.8 L654.4 453.3 L655.6 460.4 L656.9 466.6 L658.1 471.8 L659.4 477.2 L660.6 482.9 L661.9 488.0 L663.1 491.7 L664.4 496.0 L665.6 500.9 L666.9 505.1 L668.1 509.5 L669.4 514.3 L670.6 518.3 L671.9 521.8 L673.1 525.7 L674.4 529.0 L675.6 532.9 L676.9 536.0 L678.1 540.0 L679.4 544.9 L680.6 548.4 L681.9 551.8 L683.1 556.0 L684.4 560.3 L685.6 563.9 L686.9 567.7 L688.1 571.3 L689.4 573.9 L690.6 576.9 L691.9 580.6 L693.1 584.9 L694.4 588.3 L695.6 590.9 L696.9 592.6 L698.1 594.8 L699.4 597.4 L700.6 599.4 L701.9 601.9 L703.1 603.7 L704.4 604.7 L705.6 606.5 L706.9 608.9 L708.1 612.0 L709.4 613.8 L710.6 613.6 L711.9 613.4 L713.1 613.7 L714.4 615.7 L715.6 617.0 L716.9 617.6 L718.1 618.6 L719.4 618.5 L720.6 619.2 L721.9 619.7 L723.1 619.7 L724.4 620.9 L725.6 621.0 L726.9 619.5 L728.1 619.4 L729.4 620.4 L730.6 620.0 L731.9 618.6 L733.1 617.8 L734.4 616.6 L735.6 615.2 L736.9 614.0 L738.1 612.6 L739.4 611.5 L740.6 609.6 L741.9 607.3 L743.1 605.5 L744.4 603.6 L745.6 600.7 L746.9 597.9 L748.1 596.6 L749.4 595.1 L750.6 593.5 L751.9 590.9 L753.1 588.5 L754.4 586.5 L755.6 584.4 L756.9 581.1 L758.1 577.8 L759.4 574.9 L760.6 571.8 L761.9 568.9 L763.1 566.0 L764.4 563.4 L765.6 560.5 L766.9 556.1 L768.1 552.2 L769.4 548.7 L770.6 545.1 L771.9 540.5 L773.1 536.6 L774.4 533.5 L775.6 529.9 L776.9 525.4 L778.1 520.7 L779.4 516.5 L780.6 513.3 L781.9 509.6 L783.1 504.7 L784.4 499.7 L785.6 494.8 L786.9 489.4 L788.1 484.6 L789.4 480.3 L790.6 475.8 L791.9 470.8 L793.1 466.0 L794.4 462.8 L795.6 458.8 L796.9 453.4 L798.1 448.7 L799.4 444.3 L800.6 439.5 L801.9 434.5 L803.1 430.8 L804.4 426.3 L805.6 422.0 L806.9 417.0 L808.1 411.8 L809.4 407.5 L810.6 403.1 L811.9 397.6 L813.1 392.4 L814.4 387.0 L815.6 381.9 L816.9 378.0 L818.1 372.9 L819.4 367.3 L820.6 361.9 L821.9 355.9 L823.1 351.4 L824.4 347.6 L825.6 341.8 L826.9 334.3 L828.1 328.5 L829.4 325.6 L830.6 322.7 L831.9 317.7 L833.1 313.0 L834.4 308.4 L835.6 303.3 L836.9 299.1 L838.1 295.1 L839.4 290.5 L840.6 285.6 L841.9 281.0 L843.1 277.1 L844.4 273.5 L845.6 270.9 L846.9 267.6 L848.1 261.6 L849.4 256.4 L850.6 253.6 L851.9 250.9 L853.1 247.6 L854.4 243.0 L855.6 237.3 L856.9 232.7 L858.1 228.5 L859.4 223.1 L860.6 218.3 L861.9 213.3 L863.1 208.7 L864.4 204.5 L865.6 200.2 L866.9 195.7 L868.1 191.0 L869.4 187.5 L870.6 184.2 L871.9 181.1 L873.1 177.9 L874.4 173.8 L875.6 169.8 L876.9 166.7 L878.1 164.2 L879.4 161.7 L880.6 158.7 L881.9 156.5 L883.1 153.5 L884.4 149.8 L885.6 146.6 L886.9 144.8 L888.1 142.2 L889.4 139.1 L890.6 137.9 L891.9 136.2 L893.1 133.2 L894.4 131.1 L895.6 129.8 L896.9 126.7 L898.1 123.0 L899.4 120.8 L900.6 118.8 L901.9 116.2 L903.1 113.7 L904.4 112.9 L905.6 111.3 L906.9 109.7 L908.1 108.3 L909.4 106.9 L910.6 104.7 L911.9 102.9 L913.1 102.4 L914.4 101.5 L915.6 99.7 L916.9 98.7 L918.1 96.9 L919.4 95.4 L920.6 94.6 L921.9 92.9 L923.1 91.9 L924.4 90.5 L925.6 89.2 L926.9 87.4 L928.1 86.7 L929.4 86.8 L930.6 85.9 L931.9 84.6 L933.1 83.9 L934.4 83.5 L935.6 82.5 L936.9 82.5 L938.1 83.2 L939.4 83.4 L940.6 83.9 L941.9 84.7 L943.1 85.3 L944.4 86.3 L945.6 87.8 L946.9 88.3 L948.1 88.3 L949.4 87.7 L950.6 87.1 L951.9 87.0 L953.1 87.4 L954.4 87.5 L955.6 89.1 L956.9 91.3 L958.1 92.8 L959.4 92.8 L960.6 92.6 L961.9 93.4 L963.1 94.3 L964.4 95.7 L965.6 97.0 L966.9 99.1 L968.1 101.3 L969.4 102.5 L970.6 103.7 L971.9 103.9 L973.1 104.9 L974.4 107.4 L975.6 109.1 L976.9 109.4 L978.1 110.3 L979.4 111.5 L980.6 114.1 L981.9 116.7 L983.1 118.1 L984.4 119.2 L985.6 121.1 L986.9 124.3 L988.1 127.2 L989.4 129.3 L990.6 131.0 L991.9 133.1 L993.1 136.7 L994.4 138.9 L995.6 141.1 L996.9 143.4 L998.1 145.0 L999.4 148.3 L1000.6 151.7 L1001.9 155.2 L1003.1 158.5 L1004.4 160.4 L1005.6 162.1 L1006.9 165.7 L1008.1 169.6 L1009.4 172.7 L1010.6 175.0 L1011.9 178.3 L1013.1 183.0 L1014.4 186.7 L1015.6 189.3 L1016.9 192.3 L1018.1 196.2 L1019.4 198.3 L1020.6 202.8 L1021.9 207.7 L1023.1 210.0 L1024.4 212.1 L1025.7 214.8 L1026.9 218.7 L1028.2 222.0 L1029.4 226.9 L1030.7 231.9 L1031.9 237.0 L1033.2 242.4 L1034.4 246.6 L1035.7 251.1 L1036.9 255.7 L1038.2 259.8 L1039.4 264.1 L1040.7 267.9 L1041.9 270.6 L1043.2 273.6 L1044.4 277.3 L1045.7 281.7 L1046.9 286.4 L1048.2 290.8 L1049.4 295.7 L1050.7 300.5 L1051.9 305.6 L1053.2 311.2 L1054.4 315.9 L1055.7 321.4 L1056.9 326.6 L1058.2 330.1 L1059.4 334.0 L1060.7 338.0 L1061.9 342.4 L1063.2 347.0 L1064.4 352.1 L1065.7 357.5 L1066.9 363.5 L1068.2 369.5 L1069.4 374.5 L1070.7 379.5 L1071.9 384.3 L1073.2 389.1 L1074.4 393.6 L1075.7 398.4 L1076.9 404.9 L1078.2 411.2 L1079.4 415.6 L1080.7 420.2 L1081.9 425.7 L1083.2 429.9 L1084.4 434.3 L1085.7 439.2 L1086.9 445.0 L1088.2 451.8 L1089.4 458.6 L1090.7 463.2 L1091.9 467.8 L1093.2 473.4 L1094.4 478.9 L1095.7 484.1 L1096.9 490.4 L1098.2 496.5 L1099.4 501.7 L1100.7 506.2 L1101.9 510.0 L1103.2 515.1 L1104.4 521.9 L1105.7 527.0 L1106.9 530.9 L1108.2 536.6 L1109.4 542.5 L1110.7 548.4 L1111.9 553.9 L1113.2 559.4 L1114.4 565.7 L1115.7 571.8 L1116.9 577.1 L1118.2 581.3 L1119.4 586.4 L1120.7 592.9 L1121.9 599.1 L1123.2 605.8 L1124.4 611.8 L1125.7 616.5 L1126.9 620.9 L1128.2 625.8 L1129.4 630.5 L1130.7 634.1 L1131.9 638.6 L1133.2 642.6 L1134.4 646.4 L1135.7 650.1 L1136.9 653.1 L1138.2 656.6 L1139.4 659.5 L1140.7 662.7 L1141.9 666.5 L1143.2 670.7 L1144.4 674.0 L1145.7 677.5 L1146.9 681.1 L1148.2 685.9 L1149.4 690.0 L1150.7 692.9 L1151.9 696.3 L1153.2 699.4 L1154.4 702.3 L1155.7 703.5 L1156.9 705.1 L1158.2 708.4 L1159.4 710.1 L1160.7 711.1 L1161.9 712.7 L1163.2 714.4 L1164.4 716.7 L1165.7 719.0 L1166.9 721.9 L1168.2 722.9 L1169.4 722.7 L1170.7 723.7 L1171.9 725.4 L1173.2 726.7 L1174.4 728.8 L1175.7 730.4 L1176.9 731.2 L1178.2 732.6 L1179.4 734.8 L1180.7 736.8 L1181.9 737.8 L1183.2 738.0 L1184.4 738.6 L1185.7 738.9 L1186.9 739.6 L1188.2 740.2 L1189.4 741.1 L1190.7 741.0 L1191.9 741.5 L1193.2 742.9 L1194.4 743.5 L1195.7 743.2 L1196.9 743.9 L1198.2 745.1 L1199.4 745.5 L1200.7 745.6 L1201.9 746.5 L1203.2 747.6 L1204.4 749.0 L1205.7 749.1 L1206.9 748.1 L1208.2 748.4 L1209.4 750.8 L1210.7 752.6 L1211.9 753.1 L1213.2 753.3 L1214.4 752.6 L1215.7 752.4 L1216.9 753.4 L1218.2 753.7 L1219.4 753.4 L1220.7 752.6 L1221.9 752.8 L1223.2 753.1 L1224.4 753.5 L1225.7 752.9 L1226.9 752.7 L1228.2 753.5 L1229.4 754.9 L1230.7 755.1 L1231.9 755.0 L1233.2 755.4 L1234.4 756.4 L1235.7 757.3 L1236.9 755.9 L1238.2 755.7 L1239.4 756.7 L1240.7 756.7 L1241.9 755.8 L1243.2 755.7 L1244.4 755.7 L1245.7 755.6 L1246.9 755.6 L1248.2 756.2 L1249.4 756.4 L1250.7 756.5 L1251.9 756.0 L1253.2 756.3 L1254.4 755.7 L1255.7 755.8 L1256.9 757.0 L1258.2 757.3 L1259.4 757.6 L1260.7 757.8 L1261.9 758.9 L1263.2 758.4 L1264.4 757.7 L1265.7 758.5 L1266.9 758.9 L1268.2 758.6 L1269.4 759.4 L1270.7 760.5 L1271.9 759.8 L1273.2 758.4 L1274.4 757.7 L1275.7 757.2 L1276.9 755.2 L1278.2 753.7 L1279.4 754.3 L1280.7 755.1 L1281.9 756.1 L1283.2 755.2 L1284.4 753.7 L1285.7 753.6 L1286.9 754.2 L1288.2 753.8 L1289.4 753.8 L1290.7 754.3 L1291.9 754.6 L1293.2 755.0 L1294.4 755.6 L1295.7 756.4 L1296.9 756.1 L1298.2 754.9 L1299.4 755.4 L1300.7 754.7 L1301.9 753.8 L1303.2 752.6 L1304.4 752.1 L1305.7 752.0 L1306.9 752.2 L1308.2 752.6 L1309.4 752.3 L1310.7 751.6 L1311.9 752.0 L1313.2 752.7 L1314.4 752.8 L1315.7 752.1 L1316.9 751.7 L1318.2 751.2 L1319.4 750.5 L1320.7 750.6 L1321.9 751.5 L1323.2 751.0 L1324.4 750.4 L1325.7 750.3 L1326.9 751.4 L1328.2 751.6 L1329.4 750.7 L1330.7 750.2 L1331.9 750.2 L1333.2 751.0 L1334.4 750.6 L1335.7 749.4 L1336.9 749.4 L1338.2 748.8 L1339.4 748.1 L1340.7 747.2 L1341.9 746.1 L1343.2 745.6 L1344.4 746.1 L1345.7 745.7 L1346.9 745.7 L1348.2 746.5 L1349.4 745.7 L1350.7 744.9 L1351.9 744.7 L1353.2 745.3 L1354.4 745.3 L1355.7 744.8 L1356.9 744.0 L1358.2 742.7 L1359.4 742.0 L1360.7 741.5 L1361.9 741.0 L1363.2 740.0 L1364.4 739.1 L1365.7 739.7 L1366.9 739.0 L1368.2 739.3 L1369.4 740.1 L1370.7 740.3 L1371.9 739.4 L1373.2 738.1 L1374.4 739.2 L1375.7 740.6 L1376.9 739.2 L1378.2 737.2 L1379.4 736.1 L1380.7 736.5 L1381.9 735.4 L1383.2 733.4 L1384.4 732.5 L1385.7 731.7 L1386.9 730.6 L1388.2 730.2 L1389.4 730.1 L1390.7 731.1 L1391.9 732.5 L1393.2 733.1 L1394.4 731.3 L1395.7 728.0 L1396.9 724.1 L1398.2 724.0 L1399.4 727.8 L1400.7 730.6 L1401.9 730.4 L1403.2 726.6 L1404.4 722.4 L1405.7 720.9 L1406.9 721.3 L1408.2 721.2 L1409.4 721.2 L1410.7 720.4 L1411.9 719.9 L1413.2 720.7 L1414.4 720.1 L1415.7 716.6 L1416.9 712.1 L1418.2 707.4 L1419.4 709.7 L1420.7 713.9 L1421.9 717.2 L1423.2 715.8 L1424.4 713.2 L1425.7 710.6 L1426.9 708.5 L1428.2 706.6 L1429.4 704.2 L1430.7 701.6 L1431.9 698.5 L1433.2 696.2 L1434.4 697.7 L1435.7 700.2 L1436.9 702.4 L1438.2 701.3 L1439.4 698.8 L1440.7 697.5 L1441.9 697.7 L1443.2 696.6 L1444.4 693.6 L1445.7 691.9 L1446.9 689.8 L1448.2 691.0 L1449.4 691.9 L1450.7 692.8 L1451.9 693.2 L1453.2 693.4 L1454.4 691.7 L1455.7 690.1 L1456.9 688.5 L1458.2 685.8 L1459.4 683.8 L1460.7 683.3 L1461.9 685.4 L1463.2 687.3 L1464.4 688.7" stroke="#7842b0" stroke-width="2.1"/>
<path d="M124.4 635.0 L125.7 631.9 L126.9 628.3 L128.2 629.2 L129.4 631.0 L130.7 626.9 L131.9 622.0 L133.2 619.0 L134.4 617.3 L135.7 615.5 L136.9 613.7 L138.2 611.8 L139.4 611.0 L140.7 611.2 L141.9 611.6 L143.2 612.0 L144.4 612.2 L145.7 610.6 L146.9 607.6 L148.2 604.8 L149.4 602.0 L150.7 599.2 L151.9 596.7 L153.2 593.6 L154.4 590.1 L155.7 587.5 L156.9 585.5 L158.2 583.3 L159.4 582.7 L160.7 583.6 L161.9 584.4 L163.2 584.5 L164.4 582.9 L165.7 579.9 L166.9 576.3 L168.2 572.5 L169.4 568.4 L170.7 565.5 L171.9 563.8 L173.2 561.7 L174.4 559.4 L175.7 557.3 L176.9 555.4 L178.2 553.2 L179.4 551.1 L180.7 549.0 L181.9 546.8 L183.2 544.5 L184.4 541.9 L185.7 538.7 L186.9 535.0 L188.2 531.4 L189.4 528.1 L190.7 524.7 L191.9 521.3 L193.2 519.1 L194.4 518.0 L195.7 516.6 L196.9 515.0 L198.2 511.6 L199.4 506.9 L200.7 501.8 L201.9 496.5 L203.2 492.0 L204.4 488.3 L205.7 484.3 L206.9 480.5 L208.2 476.4 L209.4 472.2 L210.7 468.8 L211.9 465.4 L213.2 461.3 L214.4 457.4 L215.7 453.7 L216.9 450.2 L218.2 446.7 L219.4 442.3 L220.7 437.7 L221.9 434.1 L223.2 430.4 L224.4 426.4 L225.7 421.2 L226.9 415.4 L228.2 411.5 L229.4 408.9 L230.7 405.1 L231.9 400.6 L233.2 397.1 L234.4 394.0 L235.7 390.8 L236.9 387.4 L238.2 383.6 L239.4 379.9 L240.7 376.7 L241.9 373.3 L243.2 368.9 L244.4 366.4 L245.7 363.8 L246.9 360.5 L248.2 358.2 L249.4 355.8 L250.7 353.5 L251.9 350.8 L253.2 348.4 L254.4 345.7 L255.7 341.8 L256.9 337.3 L258.1 334.0 L259.4 331.9 L260.6 327.8 L261.9 323.3 L263.1 319.9 L264.4 316.6 L265.6 313.5 L266.9 309.7 L268.1 305.8 L269.4 302.2 L270.6 298.9 L271.9 295.3 L273.1 292.7 L274.4 289.2 L275.6 283.3 L276.9 278.7 L278.1 277.1 L279.4 274.2 L280.6 268.2 L281.9 263.3 L283.1 260.0 L284.4 255.8 L285.6 252.0 L286.9 248.9 L288.1 245.9 L289.4 242.3 L290.6 238.7 L291.9 234.5 L293.1 229.6 L294.4 224.5 L295.6 219.0 L296.9 213.8 L298.1 208.7 L299.4 205.3 L300.6 203.5 L301.9 200.7 L303.1 198.0 L304.4 195.7 L305.6 192.9 L306.9 190.4 L308.1 188.1 L309.4 184.7 L310.6 181.0 L311.9 178.2 L313.1 174.4 L314.4 170.5 L315.6 167.7 L316.9 166.0 L318.1 164.2 L319.4 160.9 L320.6 158.2 L321.9 155.6 L323.1 154.8 L324.4 154.0 L325.6 151.8 L326.9 150.0 L328.1 149.3 L329.4 148.7 L330.6 148.1 L331.9 147.4 L333.1 145.3 L334.4 143.3 L335.6 142.3 L336.9 141.3 L338.1 140.1 L339.4 138.7 L340.6 137.0 L341.9 135.5 L343.1 135.5 L344.4 134.7 L345.6 134.4 L346.9 135.8 L348.1 136.9 L349.4 136.8 L350.6 136.4 L351.9 137.2 L353.1 139.5 L354.4 139.3 L355.6 138.3 L356.9 139.0 L358.1 140.3 L359.4 141.1 L360.6 142.8 L361.9 144.6 L363.1 146.7 L364.4 147.1 L365.6 146.5 L366.9 148.1 L368.1 150.0 L369.4 152.7 L370.6 154.6 L371.9 156.0 L373.1 157.9 L374.4 161.7 L375.6 164.3 L376.9 165.3 L378.1 167.9 L379.4 170.5 L380.6 173.1 L381.9 176.0 L383.1 179.4 L384.4 181.0 L385.6 183.1 L386.9 185.7 L388.1 187.5 L389.4 189.5 L390.6 191.7 L391.9 193.8 L393.1 195.6 L394.4 198.1 L395.6 200.6 L396.9 203.0 L398.1 205.5 L399.4 208.3 L400.6 211.5 L401.9 214.3 L403.1 217.3 L404.4 220.5 L405.6 223.8 L406.9 227.2 L408.1 231.0 L409.4 233.6 L410.6 236.7 L411.9 240.5 L413.1 243.4 L414.4 245.2 L415.6 247.3 L416.9 251.2 L418.1 254.1 L419.4 256.4 L420.6 259.7 L421.9 262.0 L423.1 264.4 L424.4 267.8 L425.6 270.8 L426.9 273.3 L428.1 275.9 L429.4 279.7 L430.6 281.4 L431.9 283.4 L433.1 286.9 L434.4 289.7 L435.6 292.3 L436.9 294.7 L438.1 297.3 L439.4 299.7 L440.6 301.9 L441.9 304.5 L443.1 306.2 L444.4 308.0 L445.6 310.7 L446.9 313.0 L448.1 314.4 L449.4 316.0 L450.6 317.9 L451.9 318.6 L453.1 320.3 L454.4 322.4 L455.6 323.8 L456.9 325.9 L458.1 328.0 L459.4 329.6 L460.6 330.2 L461.9 331.5 L463.1 333.0 L464.4 334.5 L465.6 337.9 L466.9 338.4 L468.1 339.3 L469.4 341.3 L470.6 341.9 L471.9 342.3 L473.1 344.5 L474.4 346.0 L475.6 346.2 L476.9 346.9 L478.1 347.6 L479.4 347.8 L480.6 348.4 L481.9 348.2 L483.1 347.0 L484.4 346.1 L485.6 345.8 L486.9 345.4 L488.1 345.3 L489.4 344.4 L490.6 343.3 L491.9 341.9 L493.1 340.3 L494.4 339.0 L495.6 338.9 L496.9 338.3 L498.1 336.0 L499.4 334.1 L500.6 332.9 L501.9 331.5 L503.1 330.2 L504.4 329.3 L505.6 328.4 L506.9 327.6 L508.1 325.8 L509.4 324.2 L510.6 322.7 L511.9 320.8 L513.1 319.1 L514.4 316.1 L515.6 313.5 L516.9 311.5 L518.1 309.1 L519.4 306.2 L520.6 303.8 L521.9 301.3 L523.1 299.7 L524.4 296.6 L525.6 292.7 L526.9 289.5 L528.1 286.7 L529.4 283.6 L530.6 279.9 L531.9 276.8 L533.1 274.0 L534.4 271.2 L535.6 269.0 L536.9 265.9 L538.1 262.1 L539.4 258.2 L540.6 254.4 L541.9 251.8 L543.1 249.0 L544.4 246.3 L545.6 243.0 L546.9 238.3 L548.1 235.4 L549.4 232.6 L550.6 229.8 L551.9 226.1 L553.1 223.3 L554.4 221.0 L555.6 218.1 L556.9 214.4 L558.1 210.4 L559.4 207.4 L560.6 204.6 L561.9 200.4 L563.1 196.1 L564.4 193.5 L565.6 190.3 L566.9 186.4 L568.1 182.3 L569.4 178.5 L570.6 174.5 L571.9 171.5 L573.1 168.4 L574.4 165.9 L575.6 163.1 L576.9 159.3 L578.1 156.6 L579.4 154.5 L580.6 152.5 L581.9 149.3 L583.1 145.7 L584.4 143.8 L585.6 142.2 L586.9 139.5 L588.1 135.1 L589.4 132.7 L590.6 130.9 L591.9 127.2 L593.1 124.7 L594.4 123.8 L595.6 122.1 L596.9 119.4 L598.1 117.6 L599.4 116.2 L600.6 114.7 L601.9 112.6 L603.1 110.5 L604.4 108.0 L605.6 106.4 L606.9 105.5 L608.1 104.8 L609.4 103.0 L610.6 100.9 L611.9 100.2 L613.1 99.1 L614.4 97.3 L615.6 95.8 L616.9 94.3 L618.1 92.9 L619.4 92.9 L620.6 92.4 L621.9 91.3 L623.1 90.7 L624.4 89.3 L625.6 88.8 L626.9 89.3 L628.1 89.7 L629.4 88.6 L630.6 89.1 L631.9 90.0 L633.1 90.2 L634.4 90.1 L635.6 88.8 L636.9 88.5 L638.1 90.1 L639.4 90.3 L640.6 90.7 L641.9 91.6 L643.1 93.5 L644.4 94.2 L645.6 94.4 L646.9 95.6 L648.1 96.4 L649.4 97.1 L650.6 98.2 L651.9 99.5 L653.1 101.1 L654.4 102.3 L655.6 103.6 L656.9 105.4 L658.1 106.7 L659.4 108.9 L660.6 111.5 L661.9 113.9 L663.1 115.7 L664.4 118.3 L665.6 119.9 L666.9 121.3 L668.1 123.3 L669.4 126.0 L670.6 127.8 L671.9 129.0 L673.1 131.0 L674.4 133.6 L675.6 136.6 L676.9 140.2 L678.1 143.2 L679.4 145.1 L680.6 146.7 L681.9 148.5 L683.1 151.4 L684.4 155.0 L685.6 158.2 L686.9 159.9 L688.1 161.3 L689.4 163.5 L690.6 165.7 L691.9 168.2 L693.1 171.4 L694.4 175.1 L695.6 178.6 L696.9 181.1 L698.1 184.5 L699.4 187.5 L700.6 189.8 L701.9 192.8 L703.1 195.0 L704.4 197.0 L705.6 199.7 L706.9 202.6 L708.1 205.6 L709.4 209.3 L710.6 213.8 L711.9 218.3 L713.1 222.4 L714.4 226.6 L715.6 230.6 L716.9 235.3 L718.1 239.4 L719.4 242.6 L720.6 245.8 L721.9 248.6 L723.1 251.0 L724.4 254.1 L725.6 257.9 L726.9 261.4 L728.1 264.8 L729.4 268.6 L730.6 271.1 L731.9 274.5 L733.1 277.9 L734.4 280.3 L735.6 282.9 L736.9 286.4 L738.1 291.2 L739.4 295.6 L740.6 299.0 L741.9 302.1 L743.1 305.5 L744.4 308.7 L745.6 311.3 L746.9 315.5 L748.1 319.1 L749.4 322.5 L750.6 326.7 L751.9 328.6 L753.1 331.0 L754.4 334.8 L755.6 339.0 L756.9 342.1 L758.1 345.9 L759.4 349.5 L760.6 352.2 L761.9 354.8 L763.1 359.1 L764.4 363.6 L765.6 366.1 L766.9 369.4 L768.1 373.9 L769.4 378.1 L770.6 381.4 L771.9 384.2 L773.1 386.6 L774.4 390.1 L775.6 392.5 L776.9 394.5 L778.1 398.6 L779.4 401.6 L780.6 402.4 L781.9 404.8 L783.1 407.3 L784.4 407.9 L785.6 409.2 L786.9 412.0 L788.1 415.1 L789.4 418.1 L790.6 421.1 L791.9 423.1 L793.1 424.9 L794.4 428.6 L795.6 432.4 L796.9 435.0 L798.1 437.2 L799.4 439.5 L800.6 442.0 L801.9 444.0 L803.1 446.8 L804.4 449.3 L805.6 451.7 L806.9 453.0 L808.1 454.0 L809.4 456.4 L810.6 458.4 L811.9 458.9 L813.1 460.0 L814.4 461.2 L815.6 462.9 L816.9 466.0 L818.1 468.2 L819.4 469.1 L820.6 469.6 L821.9 470.4 L823.1 471.2 L824.4 472.0 L825.6 473.7 L826.9 474.9 L828.1 475.1 L829.4 474.8 L830.6 475.3 L831.9 476.4 L833.1 477.7 L834.4 477.0 L835.6 476.3 L836.9 478.1 L838.1 479.9 L839.4 480.1 L840.6 479.9 L841.9 479.0 L843.1 477.6 L844.4 477.4 L845.6 478.2 L846.9 479.2 L848.1 479.9 L849.4 479.8 L850.6 479.3 L851.9 479.1 L853.1 478.2 L854.4 477.6 L855.6 477.5 L856.9 475.7 L858.1 473.9 L859.4 474.1 L860.6 473.8 L861.9 472.1 L863.1 472.3 L864.4 472.0 L865.6 470.5 L866.9 469.6 L868.1 469.4 L869.4 469.3 L870.6 469.2 L871.9 467.5 L873.1 465.0 L874.4 464.2 L875.6 464.7 L876.9 464.4 L878.1 462.5 L879.4 461.1 L880.6 460.2 L881.9 457.9 L883.1 455.4 L884.4 453.4 L885.6 453.0 L886.9 452.5 L888.1 449.7 L889.4 447.7 L890.6 445.9 L891.9 445.1 L893.1 444.1 L894.4 442.1 L895.6 440.6 L896.9 438.9 L898.1 437.2 L899.4 435.6 L900.6 432.9 L901.9 429.5 L903.1 426.6 L904.4 424.4 L905.6 422.8 L906.9 421.2 L908.1 420.3 L909.4 417.5 L910.6 413.3 L911.9 410.5 L913.1 408.2 L914.4 404.3 L915.6 402.1 L916.9 400.5 L918.1 397.3 L919.4 394.7 L920.6 392.7 L921.9 390.9 L923.1 388.4 L924.4 385.9 L925.6 383.3 L926.9 380.5 L928.1 377.6 L929.4 373.3 L930.6 369.0 L931.9 365.4 L933.1 362.6 L934.4 360.7 L935.6 358.8 L936.9 355.4 L938.1 351.4 L939.4 348.0 L940.6 345.3 L941.9 342.6 L943.1 339.3 L944.4 336.0 L945.6 333.7 L946.9 330.9 L948.1 326.5 L949.4 323.0 L950.6 319.6 L951.9 317.1 L953.1 313.5 L954.4 309.8 L955.6 308.3 L956.9 306.6 L958.1 303.2 L959.4 299.9 L960.6 295.7 L961.9 291.6 L963.1 289.5 L964.4 286.5 L965.6 283.3 L966.9 281.4 L968.1 278.7 L969.4 275.5 L970.6 272.9 L971.9 269.7 L973.1 266.9 L974.4 263.9 L975.6 261.3 L976.9 258.7 L978.1 257.1 L979.4 254.8 L980.6 252.1 L981.9 248.5 L983.1 246.0 L984.4 243.6 L985.6 239.8 L986.9 238.3 L988.1 237.9 L989.4 236.2 L990.6 233.9 L991.9 231.1 L993.1 228.7 L994.4 225.6 L995.6 222.5 L996.9 220.2 L998.1 218.8 L999.4 216.9 L1000.6 213.8 L1001.9 210.1 L1003.1 208.7 L1004.4 208.4 L1005.6 207.3 L1006.9 204.9 L1008.1 202.1 L1009.4 200.4 L1010.6 200.3 L1011.9 198.6 L1013.1 198.0 L1014.4 196.6 L1015.6 193.9 L1016.9 191.5 L1018.1 189.8 L1019.4 188.0 L1020.6 186.9 L1021.9 185.8 L1023.1 184.6 L1024.4 183.7 L1025.7 182.2 L1026.9 179.9 L1028.2 178.4 L1029.4 176.2 L1030.7 174.6 L1031.9 173.6 L1033.2 173.2 L1034.4 173.7 L1035.7 173.7 L1036.9 173.0 L1038.2 171.8 L1039.4 170.9 L1040.7 169.9 L1041.9 169.4 L1043.2 169.9 L1044.4 169.4 L1045.7 168.5 L1046.9 168.0 L1048.2 166.7 L1049.4 166.2 L1050.7 165.6 L1051.9 164.8 L1053.2 164.3 L1054.4 164.9 L1055.7 164.8 L1056.9 164.3 L1058.2 162.9 L1059.4 161.7 L1060.7 161.7 L1061.9 162.1 L1063.2 163.6 L1064.4 164.7 L1065.7 164.5 L1066.9 164.2 L1068.2 164.7 L1069.4 165.3 L1070.7 165.5 L1071.9 166.9 L1073.2 168.0 L1074.4 168.4 L1075.7 169.3 L1076.9 170.2 L1078.2 170.5 L1079.4 171.5 L1080.7 173.3 L1081.9 174.7 L1083.2 175.6 L1084.4 175.0 L1085.7 175.6 L1086.9 178.5 L1088.2 180.4 L1089.4 180.8 L1090.7 182.0 L1091.9 184.1 L1093.2 185.6 L1094.4 187.2 L1095.7 188.4 L1096.9 189.9 L1098.2 190.9 L1099.4 193.3 L1100.7 195.8 L1101.9 197.2 L1103.2 199.2 L1104.4 201.2 L1105.7 203.6 L1106.9 206.8 L1108.2 210.8 L1109.4 213.7 L1110.7 215.8 L1111.9 216.6 L1113.2 218.5 L1114.4 221.2 L1115.7 224.3 L1116.9 226.3 L1118.2 226.7 L1119.4 227.9 L1120.7 231.0 L1121.9 235.6 L1123.2 238.7 L1124.4 241.5 L1125.7 244.5 L1126.9 246.8 L1128.2 251.0 L1129.4 256.2 L1130.7 259.7 L1131.9 262.0 L1133.2 264.4 L1134.4 268.1 L1135.7 271.1 L1136.9 272.4 L1138.2 274.9 L1139.4 277.9 L1140.7 281.1 L1141.9 284.1 L1143.2 286.9 L1144.4 290.0 L1145.7 293.8 L1146.9 297.5 L1148.2 301.6 L1149.4 305.8 L1150.7 309.9 L1151.9 313.3 L1153.2 317.3 L1154.4 321.8 L1155.7 325.1 L1156.9 328.8 L1158.2 333.2 L1159.4 336.8 L1160.7 340.3 L1161.9 343.6 L1163.2 347.0 L1164.4 351.8 L1165.7 356.4 L1166.9 359.4 L1168.2 362.0 L1169.4 365.9 L1170.7 369.5 L1171.9 373.3 L1173.2 376.9 L1174.4 380.2 L1175.7 384.5 L1176.9 387.9 L1178.2 391.5 L1179.4 395.3 L1180.7 399.4 L1181.9 402.7 L1183.2 405.2 L1184.4 408.8 L1185.7 412.2 L1186.9 416.8 L1188.2 421.5 L1189.4 425.0 L1190.7 427.4 L1191.9 429.0 L1193.2 431.5 L1194.4 434.8 L1195.7 438.9 L1196.9 442.4 L1198.2 446.1 L1199.4 451.1 L1200.7 453.6 L1201.9 456.5 L1203.2 461.1 L1204.4 465.6 L1205.7 469.5 L1206.9 473.6 L1208.2 478.7 L1209.4 483.4 L1210.7 488.4 L1211.9 492.4 L1213.2 495.1 L1214.4 499.1 L1215.7 504.1 L1216.9 509.6 L1218.2 514.4 L1219.4 518.6 L1220.7 522.6 L1221.9 527.5 L1223.2 531.8 L1224.4 534.6 L1225.7 538.8 L1226.9 543.5 L1228.2 547.8 L1229.4 552.9 L1230.7 558.8 L1231.9 563.6 L1233.2 567.4 L1234.4 571.5 L1235.7 576.9 L1236.9 580.4 L1238.2 583.4 L1239.4 587.4 L1240.7 592.3 L1241.9 597.9 L1243.2 601.7 L1244.4 605.1 L1245.7 609.0 L1246.9 614.5 L1248.2 618.6 L1249.4 622.9 L1250.7 627.8 L1251.9 631.8 L1253.2 636.4 L1254.4 639.9 L1255.7 642.0 L1256.9 645.2 L1258.2 648.4 L1259.4 652.5 L1260.7 655.9 L1261.9 658.4 L1263.2 661.9 L1264.4 663.6 L1265.7 665.1 L1266.9 668.1 L1268.2 670.6 L1269.4 672.1 L1270.7 674.3 L1271.9 676.8 L1273.2 680.3 L1274.4 682.5 L1275.7 684.6 L1276.9 686.9 L1278.2 688.3 L1279.4 691.1 L1280.7 694.4 L1281.9 696.2 L1283.2 698.2 L1284.4 699.4 L1285.7 700.3 L1286.9 702.2 L1288.2 704.0 L1289.4 705.3 L1290.7 706.5 L1291.9 707.8 L1293.2 709.4 L1294.4 712.0 L1295.7 714.4 L1296.9 715.8 L1298.2 716.4 L1299.4 717.6 L1300.7 718.1 L1301.9 718.1 L1303.2 719.4 L1304.4 720.9 L1305.7 721.8 L1306.9 723.2 L1308.2 724.6 L1309.4 725.6 L1310.7 725.7 L1311.9 725.7 L1313.2 727.4 L1314.4 729.3 L1315.7 730.5 L1316.9 732.0 L1318.2 733.3 L1319.4 734.0 L1320.7 733.9 L1321.9 732.7 L1323.2 732.4 L1324.4 732.0 L1325.7 733.7 L1326.9 736.1 L1328.2 738.0 L1329.4 739.9 L1330.7 741.3 L1331.9 742.6 L1333.2 741.3 L1334.4 740.1 L1335.7 739.0 L1336.9 739.5 L1338.2 740.4 L1339.4 740.3 L1340.7 741.1 L1341.9 742.9 L1343.2 743.9 L1344.4 744.3 L1345.7 745.7 L1346.9 747.0 L1348.2 746.7 L1349.4 747.2 L1350.7 748.2 L1351.9 749.7 L1353.2 750.7 L1354.4 751.5 L1355.7 751.8 L1356.9 750.9 L1358.2 750.2 L1359.4 750.8 L1360.7 752.4 L1361.9 752.4 L1363.2 751.6 L1364.4 750.9 L1365.7 750.7 L1366.9 750.6 L1368.2 750.2 L1369.4 749.7 L1370.7 750.7 L1371.9 751.5 L1373.2 752.0 L1374.4 752.5 L1375.7 752.8 L1376.9 752.6 L1378.2 751.9 L1379.4 750.5 L1380.7 751.2 L1381.9 752.5 L1383.2 751.8 L1384.4 751.4 L1385.7 751.0 L1386.9 750.0 L1388.2 749.2 L1389.4 747.4 L1390.7 747.3 L1391.9 748.9 L1393.2 750.9 L1394.4 753.4 L1395.7 754.9 L1396.9 755.4 L1398.2 756.2 L1399.4 757.8 L1400.7 757.7 L1401.9 757.1 L1403.2 756.4 L1404.4 755.2 L1405.7 754.2 L1406.9 754.1 L1408.2 753.6 L1409.4 752.0 L1410.7 750.1 L1411.9 747.5 L1413.2 746.0 L1414.4 748.5 L1415.7 749.8 L1416.9 751.6 L1418.2 753.9 L1419.4 755.4 L1420.7 755.3 L1421.9 754.7 L1423.2 754.4 L1424.4 753.6 L1425.7 752.5 L1426.9 752.2 L1428.2 751.5 L1429.4 751.9 L1430.7 752.1 L1431.9 750.9 L1433.2 749.5 L1434.4 749.2 L1435.7 749.3 L1436.9 749.5 L1438.2 750.4 L1439.4 751.6 L1440.7 753.2 L1441.9 753.9 L1443.2 753.5 L1444.4 751.5 L1445.7 750.1 L1446.9 747.7 L1448.2 748.9 L1449.4 750.1 L1450.7 752.2 L1451.9 753.6 L1453.2 756.1 L1454.4 759.2 L1455.7 757.8 L1456.9 755.1 L1458.2 752.5 L1459.4 749.6 L1460.7 749.3 L1461.9 749.7 L1463.2 749.1 L1464.4 748.4" stroke="#c81e2c" stroke-width="2.4"/>
</g>
<rect x="305.8" y="703.7" width="81" height="6" fill="#c0391b"/>
<rect x="754" y="687.2" width="81.3" height="6" fill="#6aaa42"/>
<rect x="754" y="735" width="81.3" height="6" fill="#7030a0"/>
<g font-size="25.5"><text x="105.4" y="808.2">450</text><text x="256.0" y="808.2">500</text><text x="401.4" y="806.4">550</text><text x="550.8" y="808.2">600</text><text x="700.8" y="808.2">650</text><text x="849.4" y="808.2">700</text><text x="997.5" y="808.2">750</text><text x="1146.5" y="808.2">800</text><text x="1293.7" y="806.4">850</text><text x="1443.8" y="808.2">900</text><text x="82.0" y="770.4">0</text><text x="82.0" y="664.3">5</text><text x="71.6" y="553.4">10</text><text x="77.0" y="438.6">15</text><text x="77.4" y="326.0">20</text><text x="77.4" y="215.9">25</text><text x="77.3" y="105.0">30</text></g>
<g font-size="38.5">
<text x="704.4" y="869.8" font-size="39">Wavelength (nm)</text>
<text x="427.4" y="720.6">45% RH</text>
<text x="871.1" y="720.6">60% RH</text>
<text transform="translate(60.4 511) rotate(-90)">Reflectivity (A.U.)</text>
</g>
</svg>
</body></html>
